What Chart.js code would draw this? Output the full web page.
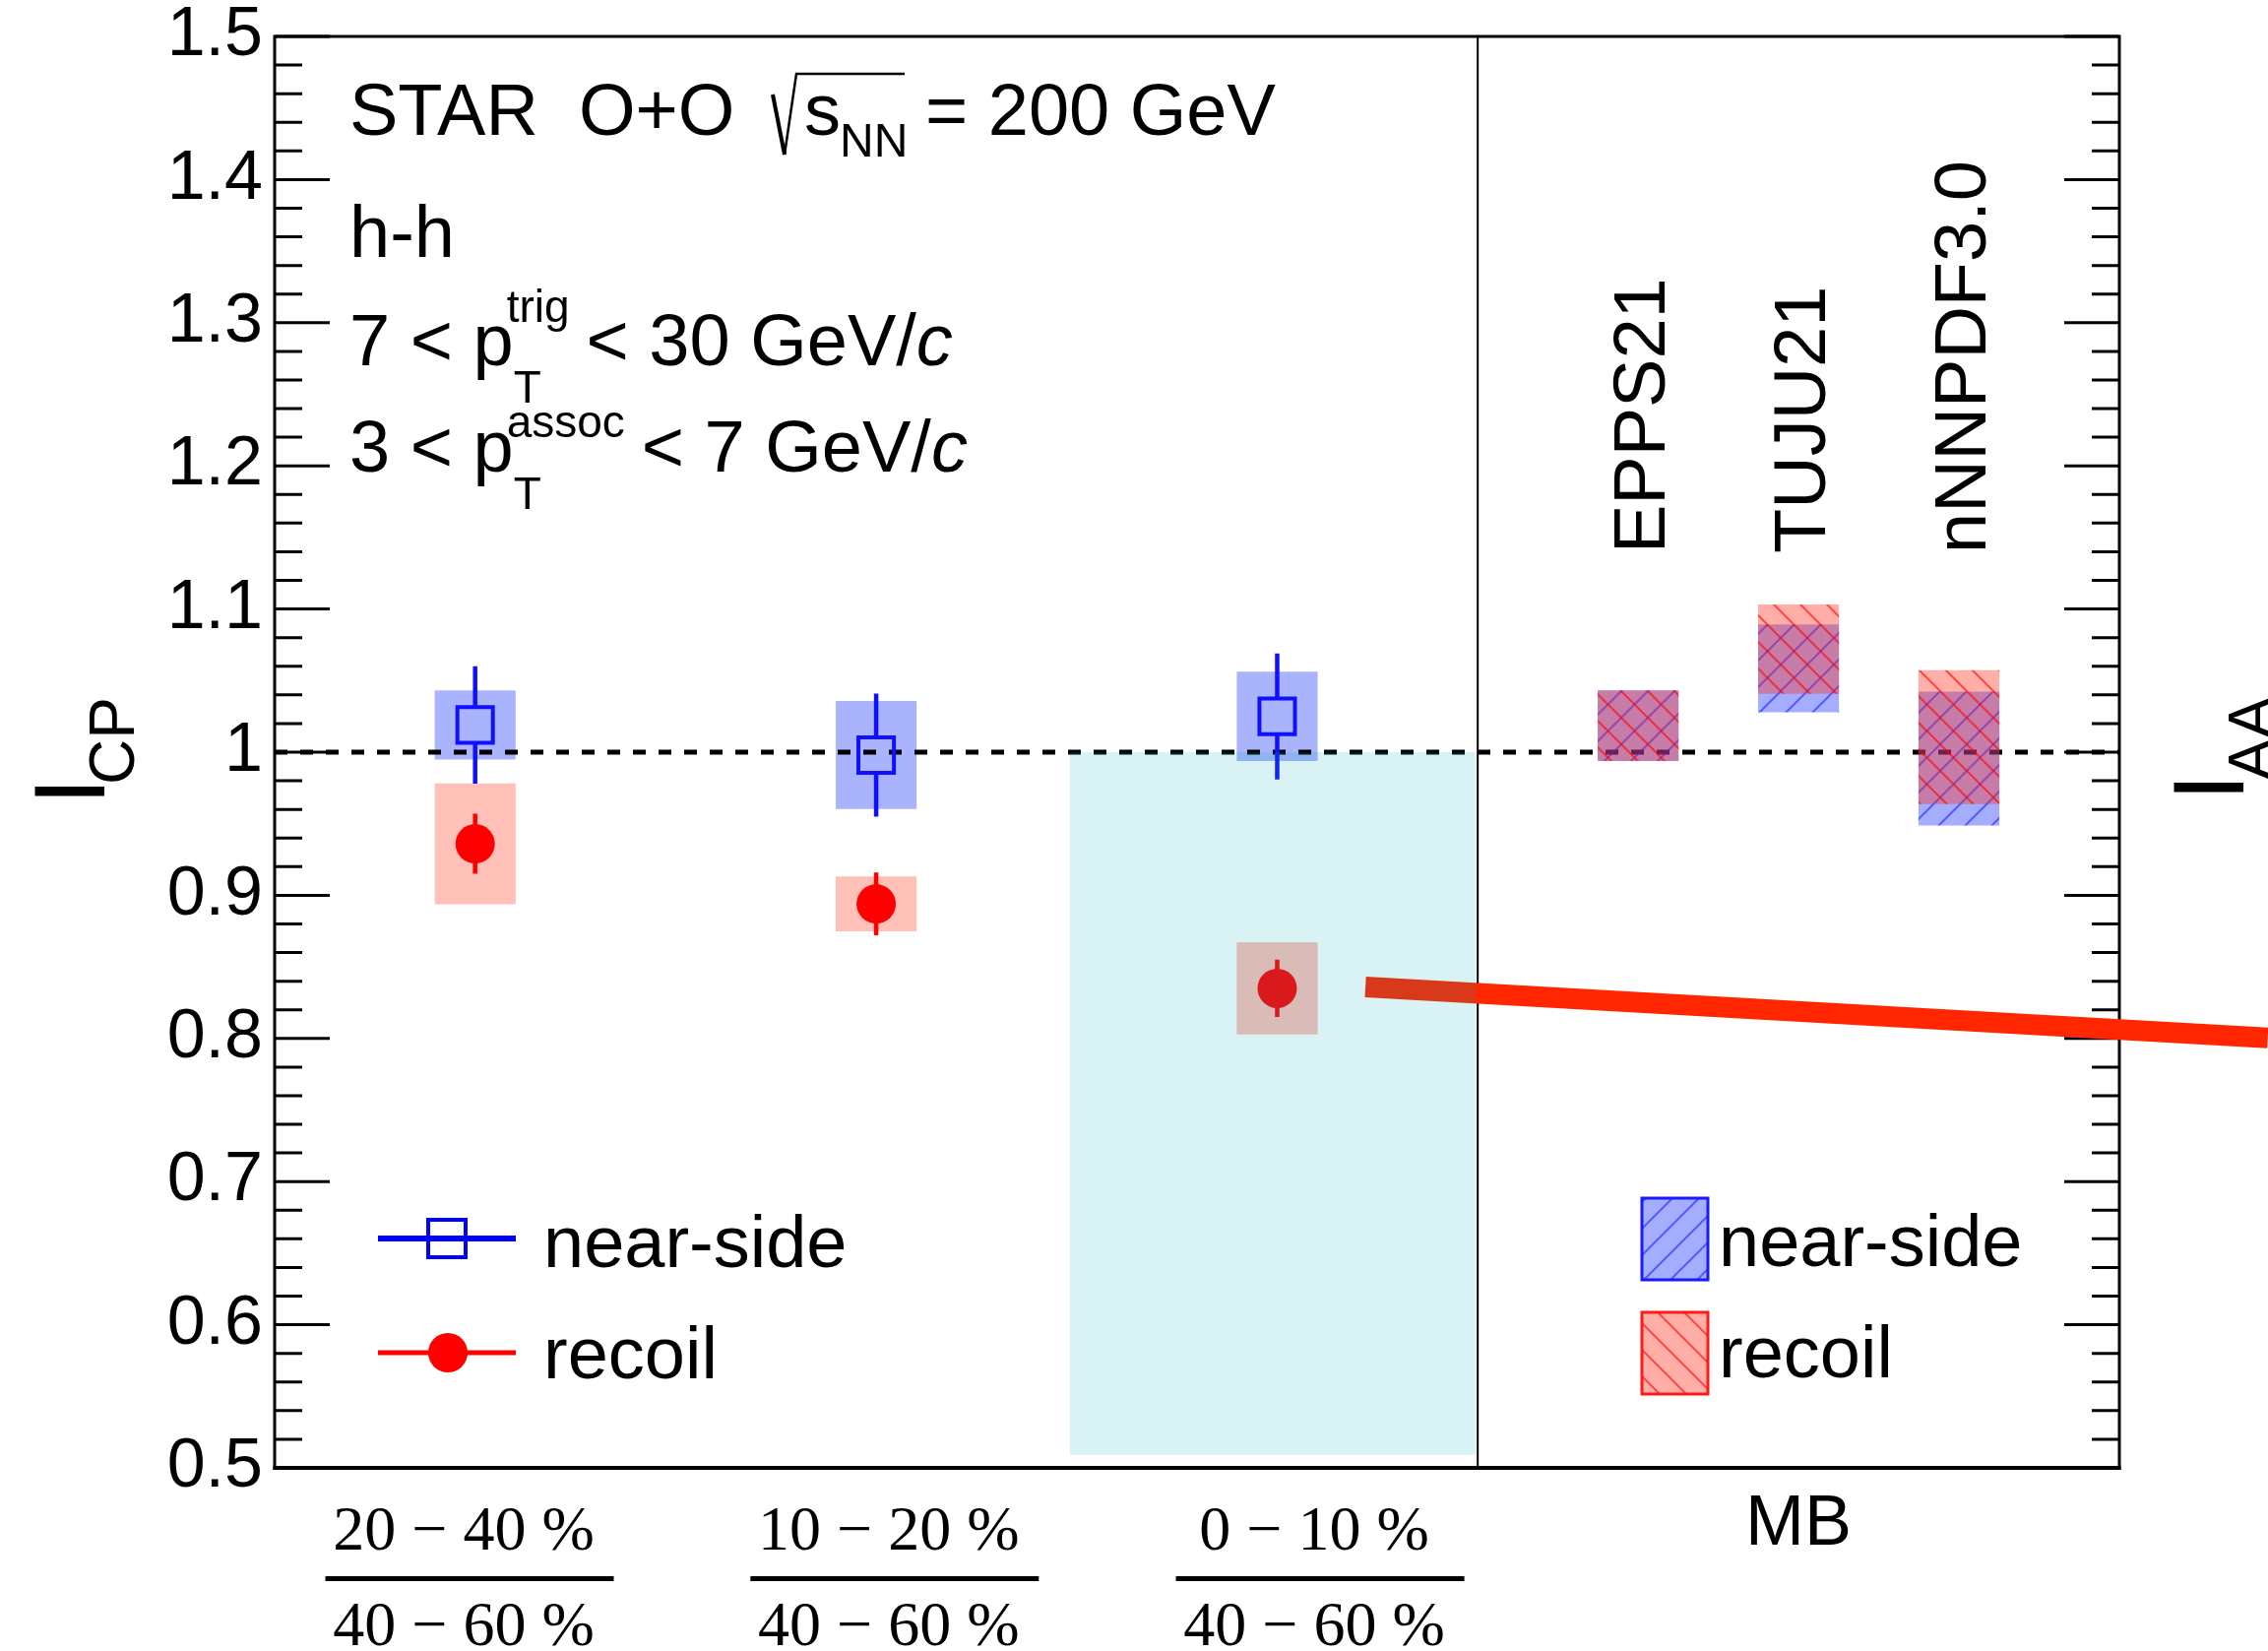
<!DOCTYPE html>
<html><head><meta charset="utf-8">
<script src="https://cdn.jsdelivr.net/npm/chart.js@4.4.1/dist/chart.umd.min.js"></script>
<style>html,body{margin:0;padding:0;background:#fff;overflow:hidden}canvas{display:block}</style>
</head><body>
<canvas id="c" width="2304" height="1677" style="width:2304px;height:1677px"></canvas>
<script>
// ---------------- data ----------------
const centralityNum = ['20 \u2212 40 %', '10 \u2212 20 %', '0 \u2212 10 %'];
const centralityDen = ['40 \u2212 60 %', '40 \u2212 60 %', '40 \u2212 60 %'];
const binX = [0.5, 1.5, 2.5];
const nearVal = [1.019, 0.998, 1.025];
const nearStat = [0.041, 0.043, 0.044];
const nearSyst = [0.024, 0.0375, 0.031];
const recoilVal = [0.936, 0.894, 0.835];
const recoilStat = [0.021, 0.022, 0.020];
const recoilSyst = [0.042, 0.019, 0.032];
const modelNames = ['EPPS21', 'TUJU21', 'nNNPDF3.0'];
const modelX = [3.4, 3.8, 4.2];
const modelNearLo = [0.994, 1.028, 0.949];
const modelNearHi = [1.043, 1.089, 1.042];
const modelRecoilLo = [0.994, 1.041, 0.964];
const modelRecoilHi = [1.043, 1.103, 1.057];
const mbLabel = 'MB';
const refValue = 1.0;
const yMin = 0.5, yMax = 1.5, yStep = 0.1, yMinorStep = 0.02;
const xMin = 0, xMax = 4.6, panelSplit = 3.0;

// ---------------- helpers ----------------
const canvas = document.getElementById('c');
const ctx = canvas.getContext('2d');
const SANS = 'Liberation Sans';
const SERIF = 'Liberation Serif';

function hatch(fill, line, dir) {
  const s = 27, cv = document.createElement('canvas');
  cv.width = s; cv.height = s;
  const g = cv.getContext('2d');
  g.fillStyle = fill; g.fillRect(0, 0, s, s);
  g.strokeStyle = line; g.lineWidth = 2;
  g.beginPath();
  if (dir > 0) {
    g.moveTo(-2, s + 2); g.lineTo(s + 2, -2);
    g.moveTo(-2, 2); g.lineTo(2, -2);
    g.moveTo(s - 2, s + 2); g.lineTo(s + 2, s - 2);
  } else {
    g.moveTo(-2, -2); g.lineTo(s + 2, s + 2);
    g.moveTo(s - 2, -2); g.lineTo(s + 2, 2);
    g.moveTo(-2, s - 2); g.lineTo(2, s + 2);
  }
  g.stroke();
  return ctx.createPattern(cv, 'repeat');
}
const blueHatch = hatch('rgba(40,60,255,0.42)', 'rgba(20,20,255,0.55)', 1);
const redHatch = hatch('rgba(255,45,25,0.38)', 'rgba(255,0,0,0.6)', -1);

const BOXW = 81.5; // 0.2 x-units in pixels

const deco = {
  id: 'deco',
  beforeDatasetDraw(chart, args) {
    const ds = chart.data.datasets[args.index];
    if (!ds.errors) return;
    const xs = chart.scales.x, ys = chart.scales.y, c = chart.ctx;
    c.save();
    c.strokeStyle = ds.errColor; c.lineWidth = 4.5; c.lineCap = 'butt';
    ds.data.forEach((p, i) => {
      const px = xs.getPixelForValue(p.x), py = ys.getPixelForValue(p.y);
      const top = ys.getPixelForValue(p.y + ds.errors[i]);
      const bot = ys.getPixelForValue(p.y - ds.errors[i]);
      c.beginPath();
      c.moveTo(px, top); c.lineTo(px, py - ds.errGap);
      c.moveTo(px, py + ds.errGap); c.lineTo(px, bot);
      c.stroke();
    });
    c.restore();
  },
  afterDatasetsDraw(chart) {
    const xs = chart.scales.x, ys = chart.scales.y, c = chart.ctx;
    const a = chart.chartArea;
    const L = a.left, R = a.right, T = a.top, B = a.bottom;
    c.save();
    c.strokeStyle = '#000'; c.lineCap = 'butt';
    // ticks
    c.lineWidth = 3;
    const n = Math.round((yMax - yMin) / yMinorStep);
    c.beginPath();
    for (let i = 0; i <= n; i++) {
      const py = ys.getPixelForValue(yMin + i * yMinorStep);
      const len = (i % 5 === 0) ? 56 : 28;
      c.moveTo(L, py); c.lineTo(L + len, py);
      c.moveTo(R, py); c.lineTo(R - len, py);
    }
    c.stroke();
    // frame
    c.lineWidth = 3;
    c.beginPath();
    c.moveTo(L, T); c.lineTo(R, T); c.moveTo(L, T - 1.5); c.lineTo(L, B + 2); c.moveTo(R, T - 1.5); c.lineTo(R, B + 2);
    c.stroke();
    c.lineWidth = 4;
    c.beginPath(); c.moveTo(L - 1.5, B); c.lineTo(R + 1.5, B); c.stroke();
    // panel divider
    c.lineWidth = 2;
    const dx = xs.getPixelForValue(panelSplit);
    c.beginPath(); c.moveTo(dx, T); c.lineTo(dx, B); c.stroke();
    // red annotation line
    c.strokeStyle = '#ff2600'; c.lineWidth = 21;
    c.beginPath();
    c.moveTo(xs.getPixelForValue(2.72), ys.getPixelForValue(0.836));
    c.lineTo(xs.getPixelForValue(4.97), ys.getPixelForValue(0.8003));
    c.stroke();
    // highlighted band
    c.fillStyle = 'rgba(0,168,182,0.15)';
    const hx0 = xs.getPixelForValue(1.983), hx1 = xs.getPixelForValue(panelSplit) - 2;
    const hy0 = ys.getPixelForValue(refValue), hy1 = ys.getPixelForValue(0.509);
    c.fillRect(hx0, hy0, hx1 - hx0, hy1 - hy0);
    c.restore();
  },
  afterDraw(chart) {
    const xs = chart.scales.x, c = chart.ctx;
    c.save();
    c.fillStyle = '#000'; c.textBaseline = 'alphabetic'; c.textAlign = 'left';
    const rot = (t, x, y, f) => { c.save(); c.translate(x, y); c.rotate(-Math.PI / 2); c.font = f; c.fillText(t, 0, 0); c.restore(); };
    // axis titles
    rot('I', 106, 818, '102px ' + SANS);
    rot('CP', 136, 797, '64px ' + SANS);
    rot('I', 2279, 814, '102px ' + SANS);
    rot('AA', 2309, 793, '64px ' + SANS);
    // model labels
    modelNames.forEach((m, i) => rot(m, xs.getPixelForValue(modelX[i]) + 27, 562, '74px ' + SANS));
    // x labels
    c.textAlign = 'center';
    c.font = '72px ' + SANS;
    c.fillText(mbLabel, xs.getPixelForValue((panelSplit + xMax) / 2), 1569);
    const labelX = [0.486, 1.546, 2.607];
    c.font = '64px ' + SERIF;
    labelX.forEach((v, i) => {
      const lx = xs.getPixelForValue(v);
      c.fillText(centralityNum[i], lx - 6, 1574);
      c.fillText(centralityDen[i], lx - 6, 1671);
      c.fillRect(lx - 146.5, 1601, 293, 5);
    });
    // header text
    c.textAlign = 'left';
    const x0 = 355;
    const big = '74px ' + SANS, small = '46px ' + SANS;
    c.font = big;
    c.fillText('STAR  O+O', x0, 137);
    c.fillText('s', 817, 137);
    c.fillText('= 200 GeV', 940, 137);
    c.font = '48px ' + SANS;
    c.fillText('NN', 853, 159);
    c.strokeStyle = '#000'; c.lineJoin = 'miter';
    c.lineWidth = 4; c.beginPath(); c.moveTo(785, 96); c.lineTo(797, 157); c.stroke();
    c.lineWidth = 2.5; c.beginPath(); c.moveTo(797, 157); c.lineTo(809, 75); c.lineTo(919, 75); c.stroke();
    c.font = big;
    c.fillText('h-h', x0, 261);
    const ptLine = (pre, sup, supOff, post, base) => {
      c.font = big; c.fillText(pre, x0, base);
      const pe = x0 + c.measureText(pre).width;
      c.font = small;
      c.fillText(sup, pe - 7, base - supOff);
      const se = pe - 7 + c.measureText(sup).width;
      c.fillText('T', pe, base + 38);
      let x = se + 17;
      c.font = big; c.fillText(post, x, base);
      x += c.measureText(post).width;
      c.font = 'italic ' + big; c.fillText('c', x, base);
    };
    ptLine('7 < p', 'trig', 44, '< 30 GeV/', 371);
    ptLine('3 < p', 'assoc', 35, '< 7 GeV/', 479);
    // left legend
    c.lineCap = 'butt';
    c.strokeStyle = '#0000ff'; c.lineWidth = 6;
    c.beginPath(); c.moveTo(384, 1258); c.lineTo(524, 1258); c.stroke();
    c.lineWidth = 4; c.strokeRect(435, 1239, 38, 38);
    c.strokeStyle = '#ff0000'; c.lineWidth = 5;
    c.beginPath(); c.moveTo(384, 1374); c.lineTo(524, 1374); c.stroke();
    c.fillStyle = '#ff0000'; c.beginPath(); c.arc(455, 1374, 20, 0, Math.PI * 2); c.fill();
    c.fillStyle = '#000'; c.font = big;
    c.fillText('near-side', 552, 1287);
    c.fillText('recoil', 552, 1400);
    // right legend
    c.fillStyle = blueHatch; c.fillRect(1668, 1217, 67, 83);
    c.strokeStyle = '#1a1aff'; c.lineWidth = 3; c.strokeRect(1668, 1217, 67, 83);
    c.fillStyle = redHatch; c.fillRect(1668, 1333, 67, 83);
    c.strokeStyle = '#ff1a1a'; c.strokeRect(1668, 1333, 67, 83);
    c.fillStyle = '#000';
    c.fillText('near-side', 1746, 1286);
    c.fillText('recoil', 1746, 1399);
    c.restore();
  }
};

Chart.defaults.font.family = SANS;

new Chart(ctx, {
  type: 'scatter',
  data: {
    datasets: [
      { type: 'bar', label: 'near syst', stack: 'all', order: 10,
        data: binX.map((x, i) => ({ x, y: [nearVal[i] - nearSyst[i], nearVal[i] + nearSyst[i]] })),
        backgroundColor: 'rgb(170,180,253)', borderWidth: 0, barThickness: BOXW },
      { type: 'bar', label: 'recoil syst', stack: 'all', order: 9,
        data: binX.map((x, i) => ({ x, y: [recoilVal[i] - recoilSyst[i], recoilVal[i] + recoilSyst[i]] })),
        backgroundColor: 'rgb(255,192,184)', borderWidth: 0, barThickness: BOXW },
      { type: 'line', label: 'ref', order: 8,
        data: [{ x: xMin, y: refValue }, { x: xMax, y: refValue }],
        borderColor: '#000', borderWidth: 5, borderDash: [13, 13], borderCapStyle: 'butt',
        pointRadius: 0, fill: false, tension: 0 },
      { type: 'bar', label: 'model near', stack: 'all', order: 7,
        data: modelX.map((x, i) => ({ x, y: [modelNearLo[i], modelNearHi[i]] })),
        backgroundColor: blueHatch, borderWidth: 0, barThickness: BOXW },
      { type: 'bar', label: 'model recoil', stack: 'all', order: 6,
        data: modelX.map((x, i) => ({ x, y: [modelRecoilLo[i], modelRecoilHi[i]] })),
        backgroundColor: redHatch, borderWidth: 0, barThickness: BOXW },
      { type: 'scatter', label: 'recoil', order: 2,
        data: binX.map((x, i) => ({ x, y: recoilVal[i] })),
        errors: recoilStat, errColor: '#ff0000', errGap: 0,
        pointStyle: 'circle', pointRadius: 20, pointBorderWidth: 0,
        backgroundColor: '#ff0000', borderColor: '#ff0000', borderWidth: 0 },
      { type: 'scatter', label: 'near-side', order: 1,
        data: binX.map((x, i) => ({ x, y: nearVal[i] })),
        errors: nearStat, errColor: '#1010ff', errGap: 18,
        pointStyle: 'rect', pointRadius: 25.5, borderWidth: 4, pointBorderWidth: 4,
        backgroundColor: 'rgba(0,0,0,0)', borderColor: '#1010ff' }
    ]
  },
  options: {
    responsive: false, animation: false, devicePixelRatio: 1, events: [],
    layout: { padding: { left: 0, right: 151, top: 37, bottom: 0 } },
    plugins: { legend: { display: false }, tooltip: { enabled: false } },
    scales: {
      x: { type: 'linear', min: xMin, max: xMax, offset: false,
        grid: { display: false, drawTicks: false }, border: { display: false },
        ticks: { display: false },
        afterFit(s) { s.height = 186; s.paddingLeft = 0; s.paddingRight = 0; } },
      y: { type: 'linear', min: yMin, max: yMax, stacked: false,
        grid: { display: false, drawTicks: false }, border: { display: false },
        ticks: { stepSize: yStep, color: '#000', padding: 12, font: { family: SANS, size: 70 },
          callback: v => String(Math.round(v * 10) / 10) },
        afterFit(s) { s.width = 279; s.paddingTop = 0; s.paddingBottom = 0; } }
    }
  },
  plugins: [deco]
});
</script>
</body></html>
